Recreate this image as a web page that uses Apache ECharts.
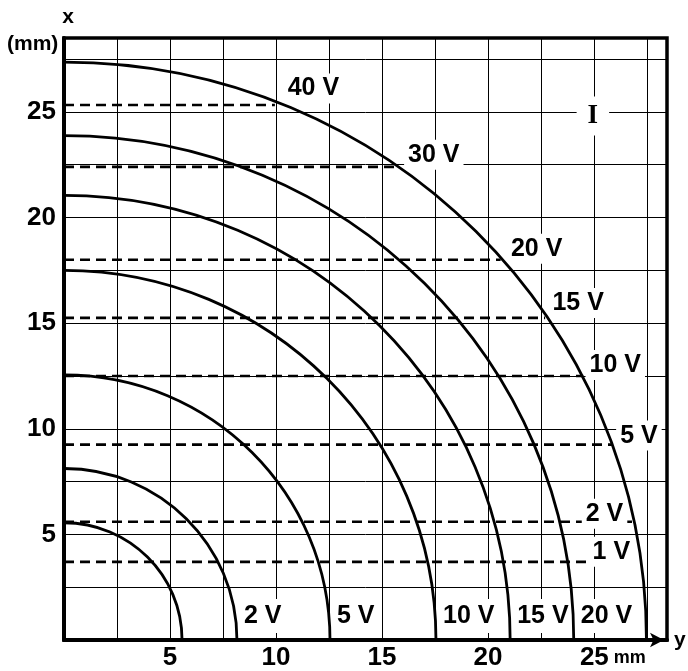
<!DOCTYPE html>
<html>
<head>
<meta charset="utf-8">
<script src="https://cdn.jsdelivr.net/npm/echarts@6/dist/echarts.min.js"></script>
<style>
    html, body { margin: 0; padding: 0; background: #fff; }
    #main { width: 688px; height: 671px; }
</style>
</head>
<body>
<div id="main"></div>
<script>
    // solid curves: where each one meets the horizontal (y) axis and the vertical (x) axis, mm
    var curveNames = ['', '2 V', '5 V', '10 V', '15 V', '20 V', ''];
    var curveReachY = [5.57, 8.16, 12.55, 17.55, 21.05, 24.05, 27.48];
    var curveReachX = [5.55, 8.12, 12.55, 17.5, 21.05, 23.88, 27.36];

    // dashed levels: height (x, mm) and where each one stops (y, mm)
    var levelNames = ['1 V', '2 V', '5 V', '10 V', '15 V', '20 V', '30 V', '40 V'];
    var levelHeights = [3.7, 5.6, 9.25, 12.5, 15.25, 18.0, 22.4, 25.33];
    var levelEnds = [27.1, 26.8, 25.85, 24.5, 22.7, 20.6, 15.75, 9.95];

    var tickLabels = [5, 10, 15, 20, 25];

    var FONT = '"Liberation Sans", Arial, sans-serif';
    // where the level names sit, relative to the end of their dashed line (px)
    var levelLabelOffsets = [[-27, -10], [-27.5, -8], [27, -9], [32, -11], [33, -15], [36, -11], [36, -12], [38.5, -16.5]];

    var series = [];
    levelNames.forEach(function(name, i) {
        series.push({
            type: 'line',
            z: 2,
            silent: true,
            animation: false,
            symbol: 'circle',
            symbolSize: 0,
            showSymbol: true,
            itemStyle: { opacity: 1 },
            lineStyle: { color: '#000', width: 2.6, type: [10, 6] },
            data: [
                { value: [0, levelHeights[i]] },
                {
                    value: [levelEnds[i], levelHeights[i]],
                    label: {
                        show: true,
                        position: 'inside',
                        offset: levelLabelOffsets[i],
                        formatter: name,
                        color: '#000',
                        fontFamily: FONT,
                        fontWeight: 'bold',
                        fontSize: 25,
                        backgroundColor: '#fff',
                        padding: [3, 4, 2, 4]
                    }
                }
            ]
        });
    });

    series.push({
        type: 'custom',
        z: 3,
        silent: true,
        animation: false,
        data: curveReachY.map(function(r, i) { return [r, curveReachX[i], i]; }),
        renderItem: function(params, api) {
            var ry = api.value(0), rx = api.value(1), i = api.value(2);
            var k = 0.5523;
            var p0 = api.coord([0, rx]),
                p3 = api.coord([ry, 0]),
                c1 = api.coord([k * ry, rx]),
                c2 = api.coord([ry, k * rx]);
            var children = [];
            if (curveNames[i]) {
                children.push({
                    type: 'text',
                    style: {
                        text: curveNames[i],
                        x: p3[0] + 4,
                        y: p3[1] - 24,
                        align: 'left',
                        verticalAlign: 'middle',
                        fill: '#000',
                        fontFamily: FONT,
                        fontWeight: 'bold',
                        fontSize: 25,
                        backgroundColor: '#fff',
                        padding: [5, 3, 4, 3]
                    }
                });
            }
            children.push({
                type: 'bezierCurve',
                shape: {
                    x1: p0[0], y1: p0[1], x2: p3[0], y2: p3[1],
                    cpx1: c1[0], cpy1: c1[1], cpx2: c2[0], cpy2: c2[1]
                },
                style: { stroke: '#000', lineWidth: 2.8, fill: 'none' }
            });
            return { type: 'group', children: children };
        }
    });

    // the "I" mark on the 25 mm grid crossing
    series.push({
        type: 'scatter',
        z: 2,
        silent: true,
        animation: false,
        symbolSize: 0,
        itemStyle: { opacity: 1, color: '#000' },
        data: [[25, 25]],
        label: {
            show: true,
            position: 'inside',
            offset: [-1, 4],
            formatter: 'I',
            color: '#000',
            opacity: 1,
            fontFamily: '"Liberation Serif", serif',
            fontWeight: 'bold',
            fontSize: 27,
            backgroundColor: '#fff',
            padding: [1, 11, 11, 11]
        }
    });

    var numStyle = { color: '#000', fontFamily: FONT, fontWeight: 'bold', fontSize: 26 };

    var option = {
        animation: false,
        backgroundColor: '#fff',
        grid: {
            left: 64, right: 21, top: 38, bottom: 31,
            containLabel: false,
            outerBoundsMode: 'none',
            show: true,
            borderColor: '#000',
            borderWidth: 3.5,
            backgroundColor: 'transparent'
        },
        xAxis: {
            type: 'value',
            min: 0,
            max: 28.45,
            interval: 2.5,
            name: 'y',
            nameLocation: 'end',
            nameGap: 7,
            nameMoveOverlap: false,
            nameTextStyle: { color: '#000', fontFamily: FONT, fontWeight: 'bold', fontSize: 21, padding: [0, 0, 20, 0] },
            axisLine: {
                show: true,
                lineStyle: { color: '#000', width: 4 },
                symbol: ['none', 'arrow'],
                symbolSize: [11, 14],
                symbolOffset: [0, -3]
            },
            axisTick: { show: false },
            splitLine: { show: true, lineStyle: { color: '#000', width: 1 } },
            axisLabel: {
                margin: 5,
                showMinLabel: true,
                showMaxLabel: false,
                hideOverlap: false,
                formatter: function(v) {
                    if (tickLabels.indexOf(v) < 0) return '';
                    if (v === 25) return '{p|}{n|25}{m| mm}';
                    return '{n|' + v + '}';
                },
                rich: {
                    n: numStyle,
                    m: { color: '#000', fontFamily: FONT, fontWeight: 'bold', fontSize: 18 },
                    p: { width: 38 }
                }
            }
        },
        yAxis: {
            type: 'value',
            min: 0,
            max: 28.5,
            interval: 2.5,
            name: 'x',
            nameLocation: 'end',
            nameGap: 10,
            nameMoveOverlap: false,
            nameTextStyle: { color: '#000', fontFamily: FONT, fontWeight: 'bold', fontSize: 21, padding: [0, 0, 0, 8] },
            axisLine: { show: true, lineStyle: { color: '#000', width: 4 } },
            axisTick: { show: false },
            splitLine: { show: true, lineStyle: { color: '#000', width: 1 } },
            axisLabel: {
                margin: 8,
                hideOverlap: false,
                padding: [0, 0, 16, 0],
                color: '#000',
                fontFamily: FONT,
                fontWeight: 'bold',
                fontSize: 26,
                formatter: function(v) {
                    return tickLabels.indexOf(v) < 0 ? '' : String(v);
                }
            }
        },
        graphic: [{
            type: 'text',
            left: 7,
            top: 34,
            style: { text: '(mm)', fill: '#000', fontFamily: FONT, fontWeight: 'bold', fontSize: 21 }
        }],
        series: series
    };

    var myChart = echarts.init(document.getElementById('main'), null, { renderer: 'canvas' });
    myChart.setOption(option);
</script>
</body>
</html>
